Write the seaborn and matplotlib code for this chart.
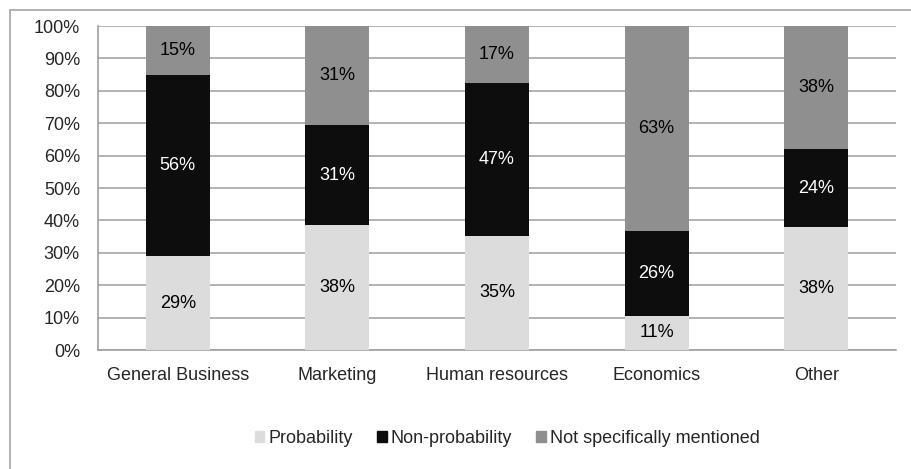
import matplotlib
matplotlib.use("Agg")
import matplotlib.pyplot as plt
import seaborn as sns
import pandas as pd
import numpy as np
from matplotlib.lines import Line2D

categories = ["General Business", "Marketing", "Human resources", "Economics", "Other"]
probability = [29.0, 38.5, 35.3, 10.5, 38.1]
non_probability = [56.0, 30.8, 47.1, 26.3, 23.8]
not_mentioned = [15.0, 30.8, 17.6, 63.2, 38.1]
series_names = ["Probability", "Non-probability", "Not specifically mentioned"]
colors = ["#dcdcdc", "#0d0d0d", "#8f8f8f"]
text_colors = ["#000000", "#ffffff", "#000000"]
label_texts = {
    "Probability": ["29%", "38%", "35%", "11%", "38%"],
    "Non-probability": ["56%", "31%", "47%", "26%", "24%"],
    "Not specifically mentioned": ["15%", "31%", "17%", "63%", "38%"],
}
yticks = [0, 10, 20, 30, 40, 50, 60, 70, 80, 90, 100]

sns.set_theme(style="white")
plt.rcParams["font.family"] = ["Liberation Sans", "DejaVu Sans"]
FS = 13

fig = plt.figure(figsize=(9.11, 4.69), dpi=100)
ax = fig.add_axes([98 / 911, 1 - 350 / 469, (896 - 98) / 911, (350 - 26) / 469])

values = [probability, non_probability, not_mentioned]
bottom = np.zeros(len(categories))
for name, vals, col, tc in zip(series_names, values, colors, text_colors):
    df = pd.DataFrame({"cat": categories, "val": vals})
    sns.barplot(data=df, x="cat", y="val", color=col, bottom=bottom, width=0.4,
                ax=ax, saturation=1, edgecolor="none", linewidth=0, zorder=3)
    for i, (v, b) in enumerate(zip(vals, bottom)):
        ax.text(i, b + v / 2, label_texts[name][i], ha="center", va="center",
                color=tc, fontsize=FS, zorder=4)
    bottom = bottom + np.array(vals)

if ax.get_legend() is not None:
    ax.get_legend().remove()

ax.set_xlim(-0.5, len(categories) - 0.5)
ax.set_ylim(0, 100)
ax.set_yticks(yticks)
ax.set_yticklabels([f"{t}%" for t in yticks], fontsize=FS)
ax.set_xticks(np.arange(-0.5, len(categories), 1.0))
ax.set_xticklabels([])
ax.set_xticks(np.arange(len(categories)), minor=True)
ax.set_xticklabels(categories, minor=True, fontsize=FS)
ax.tick_params(axis="x", which="minor", length=0, pad=12.5)
ax.tick_params(axis="x", which="major", length=5, width=1.2, color="#a0a0a0", direction="out")
ax.tick_params(axis="y", length=5, width=1.2, color="#a0a0a0", direction="out", pad=8)
ax.set_xlabel("")
ax.set_ylabel("")
ax.yaxis.grid(True, color="#a6a6a6", linewidth=1.2, zorder=0)
ax.set_axisbelow(True)
for s in ["top", "right"]:
    ax.spines[s].set_visible(False)
for s in ["left", "bottom"]:
    ax.spines[s].set_color("#a0a0a0")
    ax.spines[s].set_linewidth(1.2)

handles = [plt.Rectangle((0, 0), 1, 1, color=c) for c in colors]
fig.legend(handles, series_names, loc="center", bbox_to_anchor=(507 / 911, 1 - 438 / 469),
           ncol=3, frameon=False, fontsize=FS, handlelength=0.55, handleheight=0.55,
           handletextpad=0.2, columnspacing=1.35)

fig.add_artist(Line2D([10 / 911, 10 / 911], [0, 1 - 10 / 469], transform=fig.transFigure,
                      color="#a6a6a6", linewidth=1.2))
fig.add_artist(Line2D([10 / 911, 1], [1 - 10 / 469, 1 - 10 / 469], transform=fig.transFigure,
                      color="#a6a6a6", linewidth=1.2))

fig.savefig("out.png", dpi=100)
